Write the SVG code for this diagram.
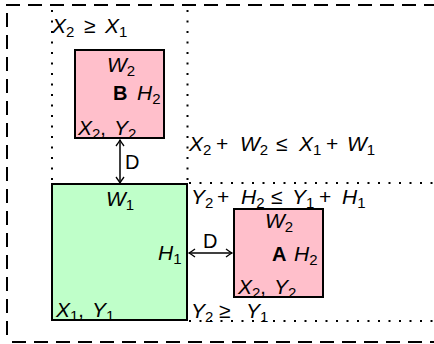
<svg xmlns="http://www.w3.org/2000/svg" width="434" height="344" viewBox="0 0 434 344">
<style>
text{font-family:"Liberation Sans",Arial,sans-serif;font-size:20px;fill:#000}
.i{font-style:italic;font-size:21px}
.o{font-size:21px}
.s{font-size:15px;font-style:normal}
.b{font-weight:bold}
.dash{stroke:#000;stroke-width:2;stroke-dasharray:14 8;fill:none}
.dot{stroke:#000;stroke-width:2;stroke-dasharray:2 8.5;fill:none}
.box{stroke:#000;stroke-width:2;fill:none}
.pink{fill:#ffbfcb}
.green{fill:#bfffc9}
.arr{stroke:#000;stroke-width:1.5;fill:none;marker-start:url(#ah);marker-end:url(#ah)}
</style>
<defs>
<marker id="ah" viewBox="-7 -5 8 10" refX="0" refY="0" markerWidth="8" markerHeight="10" markerUnits="userSpaceOnUse" orient="auto-start-reverse">
<path d="M-6,-4 Q-2,-1 0,0 Q-2,1 -6,4" stroke="#000" stroke-width="1.3" fill="none"/>
</marker>
</defs>
<g id="frame">
<line class="dash" x1="6" y1="5" x2="434" y2="5"/>
<line class="dash" x1="7" y1="13" x2="7" y2="342"/>
<line class="dash" x1="12" y1="342" x2="434" y2="342"/>
</g>
<g id="guides">
<line class="dot" x1="52" y1="10" x2="52" y2="183"/>
<line class="dot" x1="187.5" y1="10" x2="187.5" y2="183"/>
<line class="dot" x1="189" y1="183" x2="434" y2="183"/>
<line class="dot" x1="189" y1="321" x2="434" y2="321"/>
</g>
<g id="labels">
<text y="33"><tspan class="i" x="52">X</tspan><tspan class="s" dy="4">2</tspan><tspan class="o" x="84" y="33">≥</tspan><tspan class="i" x="105">X</tspan><tspan class="s" dy="4">1</tspan></text>
<text y="151"><tspan class="i" x="189">X</tspan><tspan class="s" dy="4">2</tspan><tspan class="o" x="216" y="151">+</tspan><tspan class="i" x="240">W</tspan><tspan class="s" dy="4">2</tspan><tspan class="o" x="276" y="151">≤</tspan><tspan class="i" x="299">X</tspan><tspan class="s" dy="4">1</tspan><tspan class="o" x="326" y="151">+</tspan><tspan class="i" x="347">W</tspan><tspan class="s" dy="4">1</tspan></text>
<text y="204"><tspan class="i" x="191">Y</tspan><tspan class="s" dy="4">2</tspan><tspan class="o" x="217" y="204">+</tspan><tspan class="i" x="241">H</tspan><tspan class="s" dy="4">2</tspan><tspan class="o" x="271" y="204">≤</tspan><tspan class="i" x="292">Y</tspan><tspan class="s" dy="4">1</tspan><tspan class="o" x="319" y="204">+</tspan><tspan class="i" x="342">H</tspan><tspan class="s" dy="4">1</tspan></text>
<text y="318"><tspan class="i" x="191">Y</tspan><tspan class="s" dy="4">2</tspan><tspan class="o" x="219" y="318">≥</tspan><tspan class="i" x="246">Y</tspan><tspan class="s" dy="4">1</tspan></text>
</g>
<g id="nodeB">
<rect class="pink" x="75" y="50" width="89" height="88"/>
<text y="72"><tspan class="i" x="107">W</tspan><tspan class="s" dy="4">2</tspan></text>
<text x="113" y="100" class="b">B</text>
<text y="100"><tspan class="i" x="137">H</tspan><tspan class="s" dy="4">2</tspan></text>
<text y="135"><tspan class="i" x="78">X</tspan><tspan class="s" dy="4">2</tspan><tspan dy="-4">,</tspan><tspan class="i" x="114">Y</tspan><tspan class="s" dy="4">2</tspan></text>
<rect class="box" x="75" y="50" width="89" height="88"/>
</g>
<g id="nodeMain">
<rect class="green" x="52" y="184" width="135" height="136"/>
<text y="206"><tspan class="i" x="106">W</tspan><tspan class="s" dy="4">1</tspan></text>
<text y="260"><tspan class="i" x="158">H</tspan><tspan class="s" dy="4">1</tspan></text>
<text y="317"><tspan class="i" x="56">X</tspan><tspan class="s" dy="4">1</tspan><tspan dy="-4">,</tspan><tspan class="i" x="92">Y</tspan><tspan class="s" dy="4">1</tspan></text>
<rect class="box" x="52" y="184" width="135" height="136"/>
</g>
<g id="nodeA">
<rect class="pink" x="234" y="209" width="89" height="88"/>
<text y="228"><tspan class="i" x="265">W</tspan><tspan class="s" dy="4">2</tspan></text>
<text x="272" y="261" class="b">A</text>
<text y="261"><tspan class="i" x="294">H</tspan><tspan class="s" dy="4">2</tspan></text>
<text y="294"><tspan class="i" x="238">X</tspan><tspan class="s" dy="4">2</tspan><tspan dy="-4">,</tspan><tspan class="i" x="274">Y</tspan><tspan class="s" dy="4">2</tspan></text>
<rect class="box" x="234" y="209" width="89" height="88"/>
</g>
<g id="connectors">
<line class="arr" x1="120" y1="140" x2="120" y2="183"/>
<text x="125" y="169">D</text>
<line class="arr" x1="189" y1="253" x2="232" y2="253"/>
<text x="203" y="248">D</text>
</g>
</svg>
